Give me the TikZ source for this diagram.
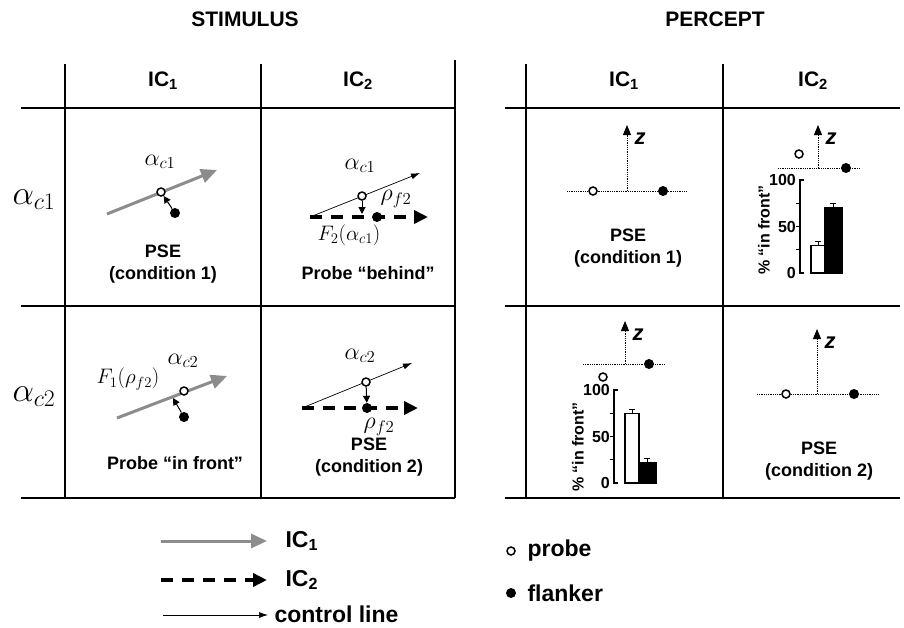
\RequirePackage{fix-cm}
\documentclass[tikz,border=0pt]{standalone}
\usepackage{fontspec}
\setmainfont{Liberation Sans}
\usetikzlibrary{arrows.meta}

\begin{document}
\begin{tikzpicture}[x=1pt,y=-1pt,
  rule/.style={line width=1.2pt},
  probe/.style={circle,draw,line width=1.5pt,fill=white,inner sep=0pt,minimum size=8pt},
  flanker/.style={circle,fill=black,inner sep=0pt,minimum size=10pt},
  icone/.style={line width=3pt,black!45,-{Triangle[length=16pt,width=14pt]}},
  ictwo/.style={line width=3.5pt,dash pattern=on 12pt off 9pt,-{Triangle[length=14pt,width=13pt]}},
  ctrl/.style={line width=0.7pt,-{Latex[length=9pt,width=6pt]}},
  nudge/.style={line width=1pt,-{Triangle[length=7pt,width=7pt]}},
  axisline/.style={densely dotted,line width=0.8pt},
  zaxis/.style={densely dotted,line width=0.8pt,-{Triangle[length=10pt,width=8pt]}},
  title/.style={font=\fontsize{21}{25}\selectfont\bfseries},
  head/.style={font=\fontsize{21}{25}\selectfont\bfseries},
  lbl/.style={font=\fontsize{18}{22}\selectfont\bfseries,align=center},
  greek/.style={font=\fontsize{24}{28}\selectfont,inner sep=1pt},
  rowlbl/.style={font=\fontsize{34}{38}\selectfont},
  tick/.style={font=\fontsize{16}{18}\selectfont\bfseries,inner sep=1pt},
  legend/.style={font=\fontsize{23}{27}\selectfont\bfseries,anchor=west}
]
  \useasboundingbox (0,0) rectangle (904,627);

  % titles
  \node[title] (stim) at (245,19) {STIMULUS};
  \node[title] (perc) at (715,19) {PERCEPT};
  \foreach \x/\t/\n in {163/1/la, 358/2/lb, 624/1/ra, 813/2/rb}
    \node[head] (ic\n) at (\x,81) {IC\textsubscript{\t}};
  \node[rowlbl] (rowa) at (34,200) {$\alpha_{c1}$};
  \node[rowlbl] (rowb) at (34,397) {$\alpha_{c2}$};

  % the two tables
  \foreach \y in {108,306,498} {
    \draw[rule] (21,\y) -- (455,\y);
    \draw[rule] (505,\y) -- (900,\y);
  }
  \foreach \x/\t in {65/64,261/64,455/60,526/64,723/64}
    \draw[rule] (\x,\t) -- (\x,498);

  % stimulus, row 1, IC1
  \coordinate (a1) at (107,214);
  \coordinate (b1) at (217,170);
  \draw[icone] (a1) -- (b1);
  \node[probe] (p11) at (161,192) {};
  \node[flanker] (f11) at (175,213) {};
  \draw[nudge] (f11) -- (p11);
  \node[greek] (al11) at (160,162) {$\alpha_{c1}$};
  \node[lbl] (t11) at (163,264) {PSE\\(condition 1)};

  % stimulus, row 1, IC2
  \coordinate (a2) at (310,217);
  \coordinate (b2) at (420,173);
  \coordinate (c2) at (428,217);
  \coordinate (d2) at (362,214);
  \draw[ictwo] (a2) -- (c2);
  \draw[ctrl] (a2) -- (b2);
  \node[probe] (p12) at (362,196) {};
  \node[flanker] (f12) at (377,217) {};
  \draw[nudge] (p12) -- (d2);
  \node[greek] (al12) at (360,166) {$\alpha_{c1}$};
  \node[greek] (rh12) at (396,199) {$\rho_{f2}$};
  \node[greek,font=\fontsize{21}{25}\selectfont] (fa12) at (349,235) {$F_2(\alpha_{c1})$};
  \node[lbl] (t12) at (368,273) {Probe “behind”};

  % stimulus, row 2, IC1
  \coordinate (a3) at (117,418);
  \coordinate (b3) at (227,376);
  \coordinate (d3) at (173,398);
  \draw[icone] (a3) -- (b3);
  \node[probe] (p21) at (184,391) {};
  \node[flanker] (f21) at (184,417) {};
  \draw[nudge] (f21) -- (d3);
  \node[greek,font=\fontsize{21}{25}\selectfont] (fr21) at (128,379) {$F_1(\rho_{f2})$};
  \node[greek] (al21) at (183,361) {$\alpha_{c2}$};
  \node[lbl] (t21) at (175,463) {Probe “in front”};

  % stimulus, row 2, IC2
  \coordinate (a4) at (302,408);
  \coordinate (b4) at (412,363);
  \coordinate (c4) at (418,408);
  \draw[ictwo] (a4) -- (c4);
  \draw[ctrl] (a4) -- (b4);
  \node[probe] (p22) at (366,382) {};
  \node[flanker] (f22) at (367,408) {};
  \draw[nudge] (p22) -- (f22);
  \node[greek] (al22) at (360,356) {$\alpha_{c2}$};
  \node[greek] (rh22) at (379,427) {$\rho_{f2}$};
  \node[lbl] (t22) at (369,457) {PSE\\(condition 2)};

  % percept: depth axes with probe and flanker
  \foreach \n/\ox/\oy/\l/\r/\t/\px/\py/\fx in {
    a/627/191/567/687/125/593/191/663,
    b/818/168/778/860/125/799/154/846,
    c/625/364/583/665/321/603/377/649,
    d/817/394/757/878/329/786/394/854
  } {
    \coordinate (o\n) at (\ox,\oy);
    \coordinate (l\n) at (\l,\oy);
    \coordinate (r\n) at (\r,\oy);
    \coordinate (t\n) at (\ox,\t);
    \draw[axisline] (l\n) -- (r\n);
    \draw[zaxis] (o\n) -- (t\n);
    \node[font=\fontsize{22}{26}\selectfont\bfseries\itshape,anchor=west] (z\n) at (\ox+4,\t+14) {z};
    \node[probe] (pr\n) at (\px,\py) {};
    \node[flanker] (fl\n) at (\fx,\oy) {};
  }
  \node[lbl] (ta) at (628,248) {PSE\\(condition 1)};
  \node[lbl] (td) at (819,461) {PSE\\(condition 2)};

  % percept: bar charts of % "in front"
  \foreach \n/\ax/\by/\w/\b/\ly in {b/800/273/30/70/43, c/614/483/75/22/36} {
    \draw[line width=1.2pt] (\ax+4,\by-93) -- (\ax,\by-93) -- (\ax,\by) -- (\ax+4,\by);
    \foreach \v in {25,50,75}
      \draw[line width=1pt] (\ax,\by-0.93*\v) -- (\ax-4,\by-0.93*\v);
    \draw[line width=1.2pt,fill=white] (\ax+11,\by) rectangle (\ax+25,\by-0.93*\w);
    \draw[line width=1.2pt,fill=black] (\ax+25,\by) rectangle (\ax+42,\by-0.93*\b);
    \draw[line width=1pt] (\ax+18,\by-0.93*\w) -- (\ax+18,\by-0.93*\w-4) (\ax+15,\by-0.93*\w-4) -- (\ax+21,\by-0.93*\w-4);
    \draw[line width=1pt] (\ax+33,\by-0.93*\b) -- (\ax+33,\by-0.93*\b-4) (\ax+30,\by-0.93*\b-4) -- (\ax+36,\by-0.93*\b-4);
    \node[tick,anchor=east] (hi\n) at (\ax-3,\by-93) {100};
    \node[tick,anchor=east] (mid\n) at (\ax-3,\by-46.5) {50};
    \node[tick,anchor=east] (lo\n) at (\ax-3,\by) {0};
    \node[tick,rotate=90] (yl\n) at (\ax-36,\by-\ly) {\% “in front”};
  }

  % legend
  \coordinate (g1) at (161,541);
  \coordinate (g2) at (267,541);
  \coordinate (k1) at (161,580);
  \coordinate (k2) at (267,580);
  \coordinate (n1) at (163,615);
  \coordinate (n2) at (268,615);
  \draw[icone] (g1) -- (g2);
  \draw[ictwo] (k1) -- (k2);
  \draw[ctrl] (n1) -- (n2);
  \node[legend] (lic1) at (282,541) {IC\textsubscript{1}};
  \node[legend] (lic2) at (282,580) {IC\textsubscript{2}};
  \node[legend] (lctl) at (271,614) {control line};
  \node[probe] (lpr) at (511,551) {};
  \node[flanker] (lfl) at (511,593) {};
  \node[legend] (lprt) at (524,551) {probe};
  \node[legend] (lflt) at (524,593) {flanker};
\end{tikzpicture}
\end{document}
